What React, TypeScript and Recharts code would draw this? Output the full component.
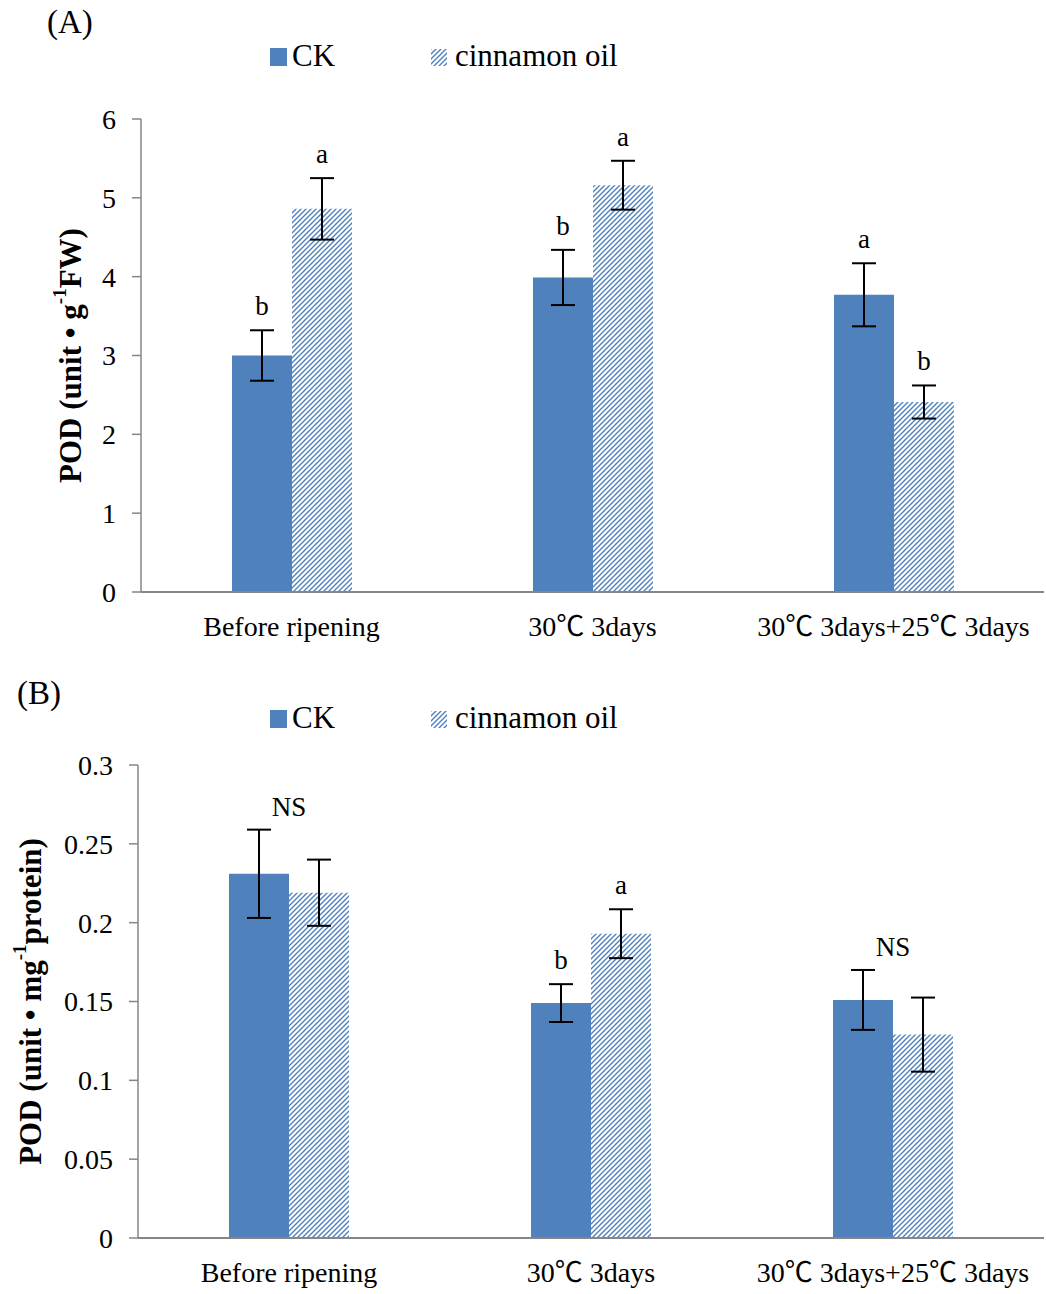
import React from 'react'
import { BarChart, Bar, XAxis, YAxis, ErrorBar, LabelList } from 'recharts'

const FONT = '"Liberation Serif", "Times New Roman", "Noto Sans CJK SC", serif'
const BLUE = '#4f81bd'
const AXIS = '#868686'

// sampling stages
const categories = ['Before ripening', '30℃ 3days', '30℃ 3days+25℃ 3days']

// (A) POD per g FW
const fwCK = [3.0, 3.99, 3.77]
const fwCKErr = [0.32, 0.35, 0.4]
const fwOil = [4.86, 5.16, 2.41]
const fwOilErr = [0.39, 0.31, 0.21]
const fwCKLetters = ['b', 'b', 'a']
const fwOilLetters = ['a', 'a', 'b']
const fwTicks = [0, 1, 2, 3, 4, 5, 6]

// (B) POD per mg protein
const protCK = [0.231, 0.149, 0.151]
const protCKErr = [0.028, 0.012, 0.019]
const protOil = [0.219, 0.193, 0.129]
const protOilErr = [0.021, 0.0155, 0.0235]
const protCKLetters = ['NS', 'b', 'NS']
const protOilLetters = ['NS', 'a', 'NS']
const protTicks = [0, 0.05, 0.1, 0.15, 0.2, 0.25, 0.3]

type Row = {
  name: string
  ck: number
  ckErr: number
  oil: number
  oilErr: number
  ckLetter: string
  oilLetter: string
}

const buildRows = (
  ck: number[],
  ckErr: number[],
  oil: number[],
  oilErr: number[],
  ckL: string[],
  oilL: string[]
): Row[] =>
  categories.map((name, i) => ({
    name,
    ck: ck[i],
    ckErr: ckErr[i],
    oil: oil[i],
    oilErr: oilErr[i],
    ckLetter: ckL[i],
    oilLetter: oilL[i],
  }))

const letterLabel = (series: 'ck' | 'oil', rows: Row[]) => (props: any) => {
  const { index } = props
  const x = Number(props.x)
  const y = Number(props.y)
  const width = Number(props.width)
  const height = Number(props.height)
  const row = rows[index]
  if (!row) return null
  const v = series === 'ck' ? row.ck : row.oil
  const err = series === 'ck' ? row.ckErr : row.oilErr
  const letter = series === 'ck' ? row.ckLetter : row.oilLetter
  const k = height / v
  const base = y + height
  if (letter === 'NS') {
    if (series === 'oil') return null
    const top = Math.min(base - (row.ck + row.ckErr) * k, base - (row.oil + row.oilErr) * k)
    return (
      <text x={x + width} y={top - 14} textAnchor="middle" fontFamily={FONT} fontSize={27} fill="#000">
        NS
      </text>
    )
  }
  const top = base - (v + err) * k
  return (
    <text x={x + width / 2} y={top - 15} textAnchor="middle" fontFamily={FONT} fontSize={27} fill="#000">
      {letter}
    </text>
  )
}

function Legend({ top }: { top: number }) {
  const txt: React.CSSProperties = {
    position: 'absolute',
    fontFamily: FONT,
    fontSize: 31,
    lineHeight: '32px',
    top: top - 17,
    color: '#000',
    whiteSpace: 'nowrap',
  }
  return (
    <>
      <div style={{ position: 'absolute', left: 270, top: top - 9, width: 17, height: 18, background: BLUE }} />
      <div style={{ ...txt, left: 292 }}>CK</div>
      <svg style={{ position: 'absolute', left: 431, top: top - 8 }} width={16} height={17}>
        <rect width={16} height={17} fill="url(#hatch)" />
      </svg>
      <div style={{ ...txt, left: 455 }}>cinnamon oil</div>
    </>
  )
}

function PodChart({
  rows,
  ticks,
  unit,
  labelX,
  height,
  marginTop,
  plotBottom,
  axisX,
}: {
  rows: Row[]
  ticks: number[]
  unit: string[]
  labelX: number
  height: number
  marginTop: number
  plotBottom: number
  axisX: number
}) {
  const yAxisW = 100
  const xAxisH = 50
  const yLabel = (p: any) => {
    const vb = p.viewBox || {}
    const cy = Number(vb.y) + Number(vb.height) / 2
    return (
      <text
        transform={`translate(${labelX},${cy}) rotate(-90)`}
        textAnchor="middle"
        dominantBaseline="central"
        fontFamily={FONT}
        fontWeight="bold"
        fontSize={31}
        fill="#000"
      >
        <tspan>{'POD (unit • ' + unit[0]}</tspan>
        <tspan dy={-11} fontSize={19}>
          -1
        </tspan>
        <tspan dy={11}>{unit[1]}</tspan>
      </text>
    )
  }
  return (
    <BarChart
      width={1046}
      height={height}
      data={rows}
      barGap={0}
      barSize={60}
      margin={{ top: marginTop, right: 2, left: axisX - yAxisW, bottom: height - plotBottom - xAxisH }}
    >
      <XAxis
        dataKey="name"
        height={xAxisH}
        interval={0}
        tickLine={false}
        tickSize={0}
        tickMargin={24}
        axisLine={{ stroke: AXIS, strokeWidth: 2 }}
        tick={{ fontFamily: FONT, fontSize: 28, fill: '#000' }}
      />
      <YAxis
        width={yAxisW}
        domain={[ticks[0], ticks[ticks.length - 1]]}
        ticks={ticks}
        interval={0}
        tickSize={9}
        tickMargin={16}
        axisLine={{ stroke: AXIS, strokeWidth: 1.5 }}
        tickLine={{ stroke: AXIS, strokeWidth: 1.5 }}
        tick={{ fontFamily: FONT, fontSize: 28, fill: '#000' }}
        label={{ content: yLabel }}
      />
      <Bar dataKey="ck" fill={BLUE} isAnimationActive={false}>
        <ErrorBar dataKey="ckErr" width={12} strokeWidth={2} stroke="#000" direction="y" isAnimationActive={false} />
        <LabelList dataKey="ck" content={letterLabel('ck', rows)} />
      </Bar>
      <Bar dataKey="oil" fill="url(#hatch)" isAnimationActive={false}>
        <ErrorBar dataKey="oilErr" width={12} strokeWidth={2} stroke="#000" direction="y" isAnimationActive={false} />
        <LabelList dataKey="oil" content={letterLabel('oil', rows)} />
      </Bar>
    </BarChart>
  )
}

export default function App() {
  const rowsA = buildRows(fwCK, fwCKErr, fwOil, fwOilErr, fwCKLetters, fwOilLetters)
  const rowsB = buildRows(protCK, protCKErr, protOil, protOilErr, protCKLetters, protOilLetters)
  const panelTitle: React.CSSProperties = {
    position: 'absolute',
    fontFamily: FONT,
    fontSize: 33,
    lineHeight: '36px',
    color: '#000',
  }
  return (
    <div style={{ position: 'absolute', left: 0, top: 0, width: 1046, height: 1294, background: '#fff' }}>
      <svg width={0} height={0} style={{ position: 'absolute' }}>
        <defs>
          <pattern id="hatch" patternUnits="userSpaceOnUse" width={5} height={5}>
            <path d="M-1,1 l2,-2 M0,5 l5,-5 M4,6 l2,-2" stroke={BLUE} strokeWidth={1.4} />
          </pattern>
        </defs>
      </svg>

      <div style={{ position: 'absolute', left: 0, top: 0 }}>
        <PodChart
          rows={rowsA}
          ticks={fwTicks}
          unit={['g', 'FW)']}
          labelX={70}
          height={650}
          marginTop={119}
          plotBottom={592}
          axisX={141}
        />
      </div>
      <div style={{ position: 'absolute', left: 0, top: 650 }}>
        <PodChart
          rows={rowsB}
          ticks={protTicks}
          unit={['mg', 'protein)']}
          labelX={30}
          height={644}
          marginTop={115}
          plotBottom={588}
          axisX={138}
        />
      </div>

      <div style={{ ...panelTitle, left: 47, top: 4 }}>(A)</div>
      <div style={{ ...panelTitle, left: 17, top: 675 }}>(B)</div>
      <Legend top={57} />
      <Legend top={719} />
    </div>
  )
}
